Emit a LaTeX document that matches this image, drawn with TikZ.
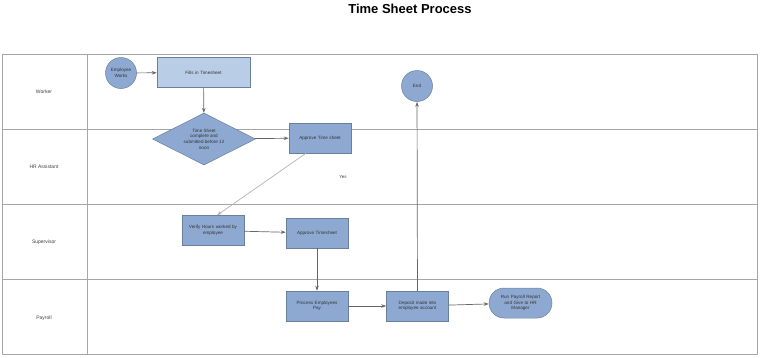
\documentclass[tikz,border=0pt]{standalone}
\usepackage{fontspec}
\setmainfont{Liberation Sans}
\usetikzlibrary{arrows.meta,shapes.geometric}

\definecolor{boxblue}{HTML}{8EA9D1}
\definecolor{boxlight}{HTML}{BACDE6}
\definecolor{boxedge}{HTML}{6A7F9C}

\begin{document}
\begin{tikzpicture}[x=1pt, y=-1pt,
    lane/.style={draw=black!35, line width=0.6pt},
    lanelbl/.style={font=\fontsize{5}{6}\selectfont, text=black!75},
    pbox/.style={draw=boxedge, fill=boxblue, line width=0.5pt, minimum width=62pt, minimum height=30pt,
                 align=center, inner sep=1pt, text width=58pt, font=\fontsize{4.6}{5.6}\selectfont, text=black!80},
    dbox/.style={draw=boxedge, fill=boxblue, line width=0.5pt, diamond, aspect=2, minimum width=103pt, minimum height=52pt,
                 align=center, inner sep=0pt, font=\fontsize{4.6}{5.6}\selectfont, text=black!80},
    cbox/.style={draw=boxedge, fill=boxblue, line width=0.5pt, circle, minimum size=31pt, inner sep=0pt,
                 align=center, font=\fontsize{4.6}{5.6}\selectfont, text=black!80},
    arr/.style={-{Stealth[length=5pt, width=3.5pt]}, line width=0.7pt, black!60},
]
\useasboundingbox (0,0) rectangle (760,357);

% Title
\node[font=\bfseries\fontsize{13}{15}\selectfont] (title) at (410,9) {Time Sheet Process};

% Swim lanes
\draw[lane] (2,54) rectangle (757,354);
\draw[lane] (87,54) -- (87,354);
\draw[lane] (2,129) -- (757,129);
\draw[lane] (2,204) -- (757,204);
\draw[lane] (2,279) -- (757,279);
\node[lanelbl] (l1) at (44,92) {Worker};
\node[lanelbl] (l2) at (44,167) {HR Assistant};
\node[lanelbl] (l3) at (44,242) {Supervisor};
\node[lanelbl] (l4) at (44,318) {Payroll};

% Worker
\node[cbox] (emp) at (121,73) {Employee\\Works};
\node[pbox, fill=boxlight, minimum width=93pt, text width=88pt] (fill) at (203.5,72.5) {Fills in Timesheet};
\node[cbox] (end) at (417,86) {End};

% HR Assistant
\node[dbox] (chk) at (204,139) {Time Sheet\\complete and\\submitted before 12\\noon};
\node[pbox] (ap1) at (320,138) {Approve Time sheet};
\node[lanelbl, font=\fontsize{4.5}{5.5}\selectfont] (yes) at (343,177) {Yes};

% Supervisor
\node[pbox] (ver) at (213,230.5) {Verify Hours worked by\\employee};
\node[pbox] (ap2) at (317,233) {Approve Timesheet};

% Payroll
\node[pbox] (pay) at (317,306) {Process Employees\\Pay};
\node[pbox] (dep) at (417.5,306) {Deposit made into\\employee account};
\node[pbox, rounded corners=15pt, minimum width=63pt] (run) at (520.5,303) {Run Payroll Report\\and Give to HR\\Manager};

% Connecting arrows
\draw[arr] (emp) -- (fill);
\draw[arr] (fill) -- (chk);
\draw[arr] (chk) -- (ap1);
\draw[arr, black!30] ([xshift=-14pt]ap1.south) -- ([xshift=4pt]ver.north);
\draw[arr] (ver) -- (ap2);
\draw[arr] (ap2) -- (pay);
\draw[arr] (pay) -- (dep);
\draw[arr] (dep) -- (run);
\draw[arr] (dep) -- (end);
\end{tikzpicture}
\end{document}
